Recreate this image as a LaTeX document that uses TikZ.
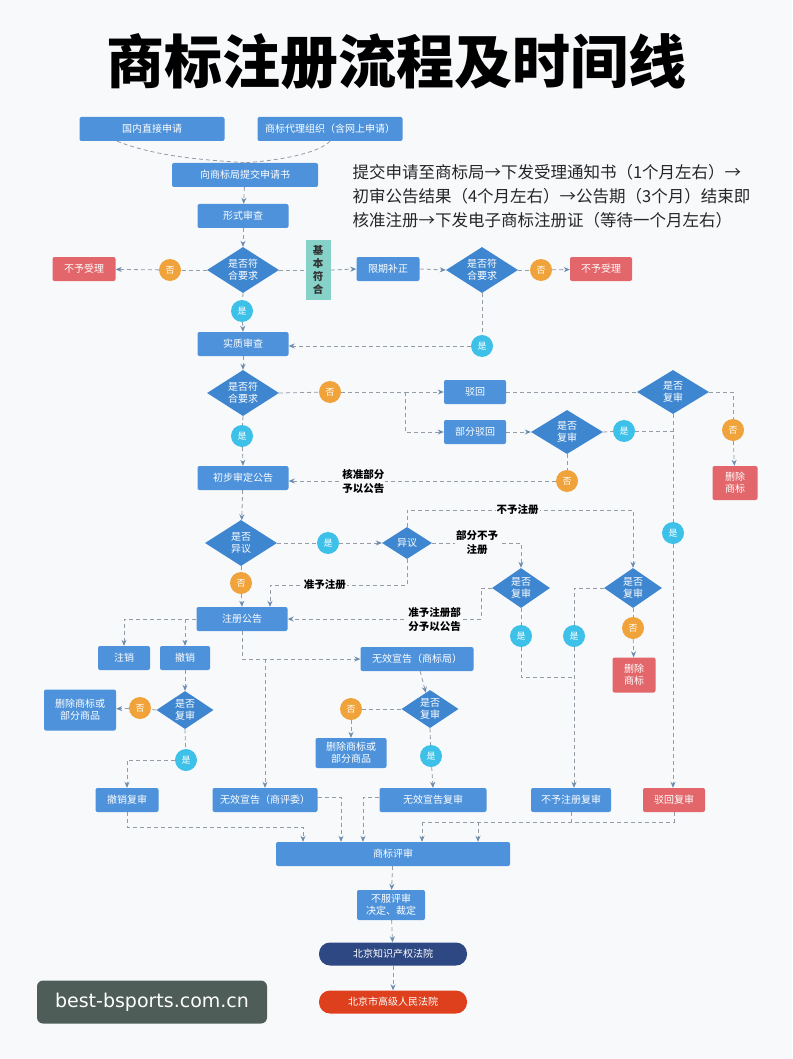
\documentclass[tikz,border=0pt]{standalone}
\usepackage{fontspec}
\setmainfont{Noto Sans CJK SC}
\newfontfamily\wmfont{DejaVu Sans}
\usetikzlibrary{shapes.geometric,arrows.meta,calc}
\definecolor{bgc}{HTML}{F8F9FB}
\definecolor{boxblue}{HTML}{4D92DB}
\definecolor{diablue}{HTML}{3E86D0}
\definecolor{redbox}{HTML}{E2666A}
\definecolor{orangec}{HTML}{F1A33B}
\definecolor{cyanc}{HTML}{3EC1E9}
\definecolor{tealc}{HTML}{86D1C8}
\definecolor{navyc}{HTML}{2E4884}
\definecolor{redor}{HTML}{DE3F1C}
\definecolor{linec}{HTML}{939BA5}
\definecolor{arrc}{HTML}{6A8CAF}
\definecolor{wmc}{HTML}{4E5D57}
\begin{document}
\begin{tikzpicture}[x=1pt,y=-1pt,
  sz/.style 2 args={minimum width=#1,minimum height=#2},
  box/.style={rectangle,rounded corners=2pt,fill=boxblue,text=white,inner sep=1pt,align=center,font=\fontsize{10}{12}\selectfont},
  redb/.style={box,fill=redbox},
  dia/.style={diamond,aspect=1.6,fill=diablue,text=white,inner sep=0pt,align=center,font=\fontsize{10}{12}\selectfont},
  yes/.style={circle,fill=cyanc,text=white,minimum size=22pt,inner sep=0pt,font=\fontsize{9}{10}\selectfont},
  no/.style={circle,fill=orangec,text=white,minimum size=22pt,inner sep=0pt,font=\fontsize{9}{10}\selectfont},
  lbl/.style={fill=bgc,inner sep=1pt,align=center,text=black,font=\fontsize{10.5}{14}\selectfont\bfseries},
  conn/.style={draw=linec,dashed,dash pattern=on 4pt off 3pt,line width=0.8pt},
  arr/.style={conn,-{Stealth[length=6pt,width=5pt,fill=arrc,color=arrc]}}
]
\useasboundingbox (0,0) rectangle (792,1059);
\fill[bgc] (0,0) rectangle (792,1059);

% title
\node (title) at (396,62) {\fontsize{58}{60}\selectfont\bfseries 商标注册流程及时间线};

% timeline text
\node[anchor=west,align=left,text=black!85,font=\fontsize{16.5}{24}\selectfont] (tl) at (349,196)
 {提交申请至商标局→下发受理通知书（1个月左右）→\\初审公告结果（4个月左右）→公告期（3个月）结束即\\核准注册→下发电子商标注册证（等待一个月左右）};

% nodes
\node[box,sz={145}{24}] (A1) at (152,129) {国内直接申请};
\node[box,sz={145}{24}] (A2) at (330,129) {商标代理组织（含网上申请）};
\node[box,sz={146}{24}] (B) at (245,175) {向商标局提交申请书};
\node[box,sz={91}{24}] (C) at (243,216) {形式审查};
\node[dia,sz={72}{46}] (D1) at (243,270) {是否符\\合要求};
\node[no] (N1) at (170,270) {否};
\node[redb,sz={63}{24}] (R1) at (84,269) {不予受理};
\node[rectangle,fill=tealc,text=black!80,sz={25}{59},inner sep=0pt,align=center,font=\fontsize{10.5}{13}\selectfont\bfseries] (T) at (318,270) {基\\本\\符\\合};
\node[box,sz={63}{24}] (E) at (388,269) {限期补正};
\node[dia,sz={72}{46}] (D2) at (482,270) {是否符\\合要求};
\node[no] (N2) at (541,270) {否};
\node[redb,sz={62}{24}] (R2) at (601,269) {不予受理};
\node[yes] (Y1) at (242,311) {是};
\node[box,sz={91}{24}] (F) at (243,344) {实质审查};
\node[yes] (Y2) at (482,346) {是};
\node[dia,sz={72}{46}] (D3) at (243,393) {是否符\\合要求};
\node[no] (N3) at (330,392) {否};
\node[box,sz={62}{24}] (G1) at (475,392) {驳回};
\node[box,sz={62}{24}] (G2) at (475,432) {部分驳回};
\node[dia,sz={72}{44}] (D4) at (567,432) {是否\\复审};
\node[yes] (Y3) at (624,431) {是};
\node[dia,sz={72}{44}] (D5) at (673,392) {是否\\复审};
\node[no] (N4) at (733,430) {否};
\node[redb,sz={45}{34}] (R3) at (735,483) {删除\\商标};
\node[no] (N5) at (567,481) {否};
\node[yes] (Y4) at (242,436) {是};
\node[box,sz={91}{24}] (H) at (243,478) {初步审定公告};
\node[dia,sz={72}{46}] (D6) at (241,543) {是否\\异议};
\node[yes] (Y5) at (328,543) {是};
\node[dia,sz={50}{32}] (D7) at (407,543) {异议};
\node[no] (N6) at (241,583) {否};
\node[box,sz={91}{24}] (I) at (242,619) {注册公告};
\node[dia,sz={58}{40}] (D8) at (521,588) {是否\\复审};
\node[dia,sz={58}{40}] (D9) at (633,588) {是否\\复审};
\node[yes] (Y6) at (673,533) {是};
\node[yes] (Y7) at (521,636) {是};
\node[yes] (Y8) at (574,636) {是};
\node[no] (N7) at (633,628) {否};
\node[redb,sz={43}{35}] (R4) at (634,675) {删除\\商标};
\node[box,sz={52}{24}] (J1) at (124,658) {注销};
\node[box,sz={50}{24}] (J2) at (185,658) {撤销};
\node[dia,sz={57}{38}] (D10) at (185,710) {是否\\复审};
\node[no] (N8) at (140,708) {否};
\node[box,sz={72}{41}] (K1) at (80,710) {删除商标或\\部分商品};
\node[yes] (Y9) at (186,760) {是};
\node[box,sz={63}{24}] (L1) at (127,800) {撤销复审};
\node[box,sz={113}{24}] (M) at (417,659) {无效宣告（商标局）};
\node[dia,sz={57}{38}] (D11) at (430,709) {是否\\复审};
\node[no] (N9) at (351,709) {否};
\node[box,sz={71}{30}] (K2) at (351,753) {删除商标或\\部分商品};
\node[yes] (Y10) at (431,756) {是};
\node[box,sz={107}{24}] (L3) at (433,800) {无效宣告复审};
\node[box,sz={105}{24}] (L2) at (265,800) {无效宣告（商评委）};
\node[box,sz={80}{24}] (L4) at (571,800) {不予注册复审};
\node[redb,sz={62}{24}] (L5) at (674,800) {驳回复审};
\node[box,sz={234}{24}] (P) at (393,854) {商标评审};
\node[box,sz={68}{30}] (Q) at (391,905) {不服评审\\决定、裁定};
\node[box,fill=navyc,rounded corners=11pt,sz={148}{23}] (S1) at (393,954) {北京知识产权法院};
\node[box,fill=redor,rounded corners=11pt,sz={148}{23}] (S2) at (393,1002) {北京市高级人民法院};

% watermark
\node[rectangle,rounded corners=6pt,fill=wmc,text=white,sz={230}{43},font=\wmfont\fontsize{19}{20}\selectfont] (wm) at (152,1002) {best-bsports.com.cn};

% connectors
\draw[conn] ([xshift=-35pt]A1.south) .. controls (160,158) and (210,160) .. (B.north);
\draw[conn] (A2.south) .. controls (320,152) and (285,160) .. (B.north);
\draw[arr] (B) -- (C);
\draw[arr] (C) -- (D1);
\draw[conn] (D1.west) -- (N1);
\draw[arr] (N1) -- (R1);
\draw[conn] (D1.east) -- (T.west);
\draw[arr] (T.east) -- (E.west);
\draw[arr] (E.east) -- (D2.west);
\draw[conn] (D2.east) -- (N2);
\draw[arr] (N2) -- (R2);
\draw[conn] (D1.south) -- (Y1);
\draw[arr] (Y1) -- (F.north);
\draw[conn] (D2.south) -- (Y2);
\draw[arr] (Y2) -- (Y2 -| F.east);
\draw[arr] (F) -- (D3);
\draw[conn] (D3.east) -- (N3);
\coordinate (c1) at (405,392);
\draw[conn] (N3) -- (c1);
\draw[arr] (c1) -- (G1.west);
\draw[arr] (c1) |- (G2.west);
\draw[arr] (G2.east) -- (D4.west);
\draw[conn] (G1.east) -- (D5.west);
\draw[conn] (D4.east) -- (Y3);
\draw[conn] (Y3) -- (Y3 -| D5.south);
\draw[conn] (D5.east) -| (N4);
\draw[arr] (N4) -- (R3);
\draw[conn] (D5.south) -- (Y6);
\draw[arr] (Y6) -- (Y6 |- L5.north);
\draw[conn] (D4.south) -- (N5);
\draw[arr] (N5) -- (N5 -| H.east) node[lbl,pos=0.72] {核准部分\\予以公告};
\draw[conn] (D3.south) -- (Y4);
\draw[arr] (Y4) -- (H.north);
\draw[arr] (H) -- (D6);
\draw[conn] (D6.east) -- (Y5);
\draw[arr] (Y5) -- (D7.west);
\draw[conn] (D6.south) -- (N6);
\draw[arr] (N6) -- (I.north);
\coordinate (c2) at (407,510);
\draw[arr] (D7.north) -- (c2) -| (D9.north) node[lbl,pos=0.245] {不予注册};
\draw[arr] (D7.east) -| (D8.north);
\node[lbl] at (477,543) {部分不予\\注册};
\coordinate (c3) at (270,585);
\draw[arr] (D7.south) |- (c3) node[lbl,pos=0.8] {准予注册} -- (c3 |- I.north);
\coordinate (c4) at (481,588);
\draw[arr] (D8.west) -- (c4) |- (I.east) node[lbl,pos=0.62] {准予注册部\\分予以公告};
\draw[conn] (D8.south) -- (Y7);
\draw[conn] (Y7) |- (574,677);
\draw[conn] (D9.west) -| (Y8);
\draw[arr] (Y8) -- (Y8 |- L4.north);
\draw[conn] (D9.south) -- (N7);
\draw[arr] (N7) -- (R4);
\draw[arr] (I.west) -| (J1.north);
\draw[arr] (J2.north |- I.west) -- (J2.north);
\draw[arr] (J2) -- (D10);
\draw[conn] (D10.west) -- (N8);
\draw[arr] (N8) -- (K1);
\draw[conn] (D10.south) -- (Y9);
\draw[arr] (Y9) -| (L1.north);
\draw[arr] (I.south) |- (M.west);
\draw[arr] (L2.north |- M.west) -- (L2.north);
\draw[arr] (M) -- (D11);
\draw[conn] (D11.west) -- (N9);
\draw[arr] (N9) -- (K2);
\draw[conn] (D11.south) -- (Y10);
\draw[arr] (Y10) -- (L3.north);
\coordinate (p1) at (303,827);
\draw[arr] (L1.south) |- (p1) -- (p1 |- P.north);
\coordinate (p2) at (341,797);
\draw[arr] (L2.east |- p2) -- (p2) -- (p2 |- P.north);
\coordinate (p3) at (363,797);
\draw[arr] (L3.west |- p3) -- (p3) -- (p3 |- P.north);
\coordinate (p4) at (422,822);
\coordinate (p5) at (478,822);
\draw[conn] (L4.south) -- (L4.south |- p4);
\draw[conn] (L5.south) |- (p4);
\draw[arr] (p4) -- (p4 |- P.north);
\draw[arr] (p5) -- (p5 |- P.north);
\draw[arr] (P) -- (Q);
\draw[arr] (Q) -- (S1);
\draw[arr] (S1) -- (S2);
\end{tikzpicture}
\end{document}
